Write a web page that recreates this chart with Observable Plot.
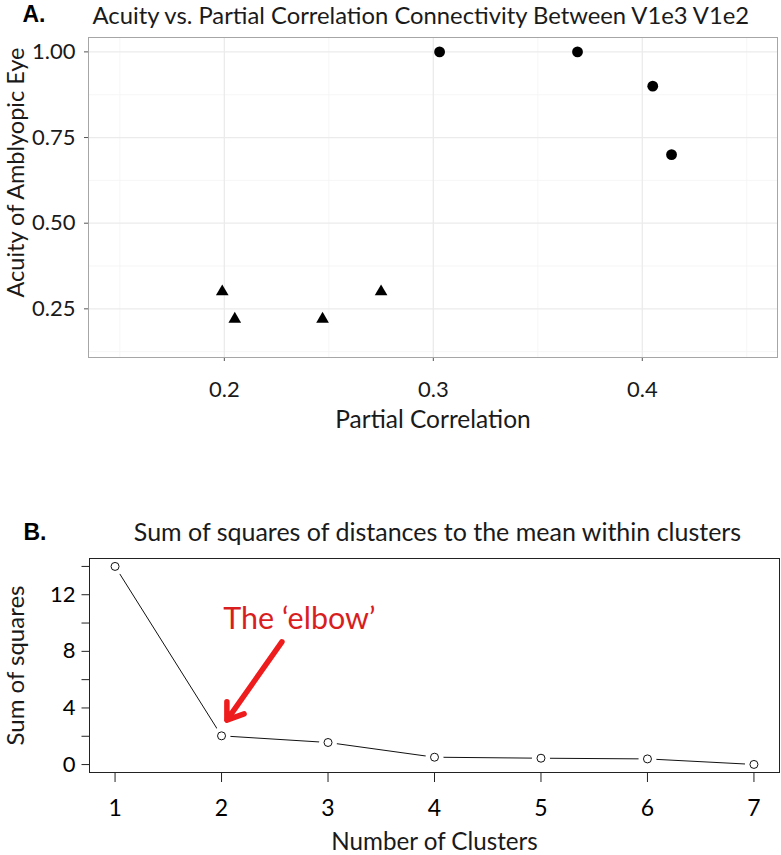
<!DOCTYPE html>
<html><head><meta charset="utf-8">
<script src="https://cdn.jsdelivr.net/npm/d3@7"></script>
<script src="https://cdn.jsdelivr.net/npm/@observablehq/plot@0.6"></script>
<style>
body{margin:0;background:#fff;}
#wrap{position:relative;width:781px;height:855px;background:#fff;overflow:hidden;}
#a{position:absolute;left:0;top:0;}
#b{position:absolute;left:0;top:490px;}
</style></head><body><div id="wrap"><div id="a"></div><div id="b"></div></div>
<script>
// Panel A data
const partialCorr = [0.199, 0.205, 0.247, 0.275, 0.303, 0.369, 0.405, 0.414];
const acuity      = [0.30, 0.22, 0.22, 0.30, 1.00, 1.00, 0.90, 0.70];
const groupA      = ["low","low","low","low","high","high","high","high"];
const xTicksA = [0.2, 0.3, 0.4];
const xMinorA = [0.15, 0.25, 0.35, 0.45];
const yTicksA = [0.25, 0.5, 0.75, 1.0];
const yMinorA = [0.125, 0.375, 0.625, 0.875];
const titleA = "Acuity vs. Partial Correlation Connectivity Between V1e3 V1e2";

// Panel B data
const clusters   = [1, 2, 3, 4, 5, 6, 7];
const sumSquares = [14.0, 2.03, 1.56, 0.52, 0.45, 0.40, 0.01];
const yTicksB  = [0, 2, 4, 6, 8, 10, 12, 14];
const yLabelsB = [0, 4, 8, 12];
const titleB = "Sum of squares of distances to the mean within clusters";
const elbowLabel = ["The ‘elbow’"];
const elbowText  = [2.016, 10.24];
const elbowFrom  = [2.567, 8.67];
const elbowTo    = [2.05, 3.14];

const FONT = "Lato, 'Open Sans', sans-serif";
const BOLD = "'Liberation Sans', Arial, sans-serif";
const dataA = partialCorr.map((x, i) => ({x, y: acuity[i], g: groupA[i]}));

const chartA = Plot.plot({
  width: 781, height: 440,
  marginTop: 37, marginBottom: 83, marginLeft: 88, marginRight: 4,
  style: {fontFamily: FONT, background: "#fff", overflow: "visible"},
  x: {domain: [0.135, 0.4647]},
  y: {domain: [0.108, 1.042]},
  symbol: {domain: ["low", "high"], range: ["triangle", "circle"]},
  marks: [
    Plot.ruleX(xMinorA, {stroke: "#f4f4f4", strokeWidth: 0.8}),
    Plot.ruleY(yMinorA, {stroke: "#f4f4f4", strokeWidth: 0.8}),
    Plot.ruleX(xTicksA, {stroke: "#ebebeb", strokeWidth: 1.3}),
    Plot.ruleY(yTicksA, {stroke: "#ebebeb", strokeWidth: 1.3}),
    Plot.axisX({ticks: xTicksA, tickSize: 4, tickPadding: 20, fontSize: 22, stroke: "#555", fill: "#1a1a1a", label: null, tickFormat: d => d.toFixed(1)}),
    Plot.axisY({ticks: yTicksA, tickSize: 4, tickPadding: 9, fontSize: 22, stroke: "#555", fill: "#1a1a1a", label: null, tickFormat: d => d.toFixed(2)}),
    Plot.dot(dataA.filter(d => d.g === "high"), {x: "x", y: "y", symbol: "g", fill: "#000", r: 5.4}),
    Plot.dot(dataA.filter(d => d.g === "low"), {x: "x", y: "y", symbol: "g", fill: "#000", r: 4.7}),
    Plot.frame({stroke: "#a6a6a6"}),
    Plot.text(["A."], {text: d => d, frameAnchor: "top-left", dx: -66, dy: -22.5, textAnchor: "start", lineAnchor: "middle", fontFamily: BOLD, fontWeight: "bold", fontSize: 23, fill: "#000"}),
    Plot.text([titleA], {text: d => d, frameAnchor: "top-left", dx: 4, dy: -21, textAnchor: "start", lineAnchor: "middle", fontSize: 23.8, fill: "#1a1a1a"}),
    Plot.text(["Acuity of Amblyopic Eye"], {text: d => d, frameAnchor: "left", rotate: -90, dx: -72, dy: -25, textAnchor: "middle", lineAnchor: "middle", fontSize: 23.5, fill: "#1a1a1a"}),
    Plot.text(["Partial Correlation"], {text: d => d, frameAnchor: "bottom", dy: 63, textAnchor: "middle", lineAnchor: "middle", fontSize: 24.5, fill: "#1a1a1a"})
  ]
});
document.getElementById("a").appendChild(chartA);

const dataB = clusters.map((k, i) => ({k, s: sumSquares[i]}));
const chartB = Plot.plot({
  width: 781, height: 365,
  marginTop: 68, marginBottom: 83, marginLeft: 89, marginRight: 2,
  style: {fontFamily: FONT, background: "#fff", overflow: "visible"},
  x: {domain: [0.76, 7.24]},
  y: {domain: [-0.56, 14.56]},
  marks: [
    Plot.line(dataB, {x: "k", y: "s", stroke: "#111", strokeWidth: 1}),
    Plot.dot(dataB, {x: "k", y: "s", fill: "#fff", r: 9}),
    Plot.dot(dataB, {x: "k", y: "s", fill: "#fff", stroke: "#111", strokeWidth: 1, r: 4}),
    Plot.axisX({ticks: clusters, tickSize: 10, tickPadding: 17, fontSize: 23, stroke: "#222", fill: "#000", label: null, tickFormat: d => String(d)}),
    Plot.axisY({ticks: yTicksB, tickSize: 7.5, tickPadding: 6.5, fontSize: 22, stroke: "#222", fill: "#000", label: null, tickFormat: d => yLabelsB.includes(d) ? String(d) : ""}),
    Plot.frame({stroke: "#222"}),
    Plot.arrow([0], {x1: () => elbowFrom[0], y1: () => elbowFrom[1], x2: () => elbowTo[0], y2: () => elbowTo[1], stroke: "#ee1c1c", strokeWidth: 5.5, headLength: 5, headAngle: 70}),
    Plot.text(elbowLabel, {text: d => d, x: () => elbowText[0], y: () => elbowText[1], textAnchor: "start", lineAnchor: "middle", fontSize: 30.5, fill: "#d81e1e"}),
    Plot.text(["B."], {text: d => d, frameAnchor: "top-left", dx: -66, dy: -26, textAnchor: "start", lineAnchor: "middle", fontFamily: BOLD, fontWeight: "bold", fontSize: 23, fill: "#000"}),
    Plot.text([titleB], {text: d => d, frameAnchor: "top", dx: 3, dy: -26, textAnchor: "middle", lineAnchor: "middle", fontSize: 25, fill: "#1a1a1a"}),
    Plot.text(["Sum of squares"], {text: d => d, frameAnchor: "left", rotate: -90, dx: -73, dy: 0, textAnchor: "middle", lineAnchor: "middle", fontSize: 24, fill: "#1a1a1a"}),
    Plot.text(["Number of Clusters"], {text: d => d, frameAnchor: "bottom", dy: 69.5, textAnchor: "middle", lineAnchor: "middle", fontSize: 24.2, fill: "#1a1a1a"})
  ]
});
document.getElementById("b").appendChild(chartB);
</script></body></html>
